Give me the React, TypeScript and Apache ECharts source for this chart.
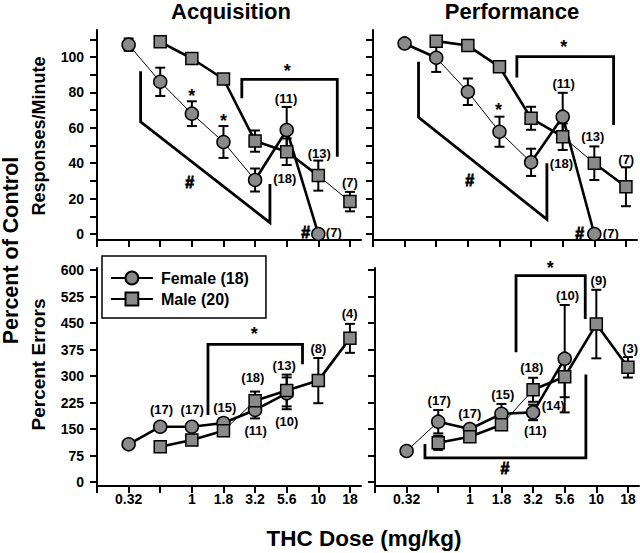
import React, { useEffect, useRef } from "react";
import * as echarts from "echarts";

// ---------- data ----------
const doseIndex = [0, 1, 2, 3, 4, 5, 6, 7];
const doseTickLabels = ["0.32", "", "1", "1.8", "3.2", "5.6", "10", "18"];

// Acquisition – Responses/Minute (percent of control)
const acqRateFemale = [107, 86, 68, 52, 30.5, 58.8, 0, null];
const acqRateFemaleSem = [3.5, 8, 7, 9, 6.5, 13, 0, null];
const acqRateMale = [null, 108.6, 99.2, 87.6, 52.5, 46.5, 33, 18.3];
const acqRateMaleSem = [null, 0, 0, 2, 6, 7.5, 8.5, 5.5];

// Performance – Responses/Minute
const perfRateFemale = [107.7, 99.6, 80.4, 57.8, 40.5, 66.3, 0, null];
const perfRateFemaleSem = [0, 8, 7.5, 8.5, 7.7, 13.5, 0, null];
const perfRateMale = [null, 109, 106.5, 94.5, 65.4, 55, 40, 26.7];
const perfRateMaleSem = [null, 2, 0, 0, 6.5, 7.5, 9.5, 11];

// Acquisition – Percent Errors
const acqErrFemale = [106.7, 156.5, 156.5, 167, 204, 251, null, null];
const acqErrFemaleSem = [0, 12, 8, 14, 24, 45, null, null];
const acqErrMale = [null, 100, 119, 145, 230, 259, 287, 406.6];
const acqErrMaleSem = [null, 0, 0, 10, 26, 45, 64, 41];

// Performance – Percent Errors
const perfErrFemale = [87.7, 170.7, 150, 193, 197, 349, null, null];
const perfErrFemaleSem = [0, 33, 8, 28, 22, 152, null, null];
const perfErrMale = [null, 111, 128, 162, 261, 298, 447, 324.6];
const perfErrMaleSem = [null, 20, 8, 12, 34, 58, 97, 29];

// ---------- styling of individual connecting segments (1 = heavy line) ----------
const segStyle = {
  acqRateFemale: [0, 0, 0, 0, 1, 1, 0],
  acqRateMale: [0, 1, 1, 1, 1, 1, 0],
  perfRateFemale: [1, 0, 0, 0, 1, 1, 0],
  perfRateMale: [0, 1, 1, 1, 1, 0, 1],
  acqErrFemale: [1, 1, 1, 1, 1, 0, 0],
  acqErrMale: [0, 1, 1, 0, 1, 1, 1],
  perfErrFemale: [0, 1, 1, 1, 1, 0, 0],
  perfErrMale: [0, 1, 1, 0, 1, 1, 1],
};

// ---------- annotations (in data coordinates: dose index, value) ----------
type Note = { x: number; y: number; t: string; s?: number };
const notesAcqRate: Note[] = [
  { x: 2.0, y: 78.2, t: "*", s: 18 },
  { x: 3.0, y: 64.1, t: "*", s: 18 },
  { x: 5.02, y: 92.2, t: "*", s: 18 },
  { x: 4.98, y: 76.7, t: "(11)" },
  { x: 4.94, y: 31.6, t: "(18)" },
  { x: 6.03, y: 45.6, t: "(13)" },
  { x: 7.0, y: 29, t: "(7)" },
  { x: 5.6, y: 1, t: "#", s: 16 },
  { x: 6.49, y: 1, t: "(7)" },
  { x: 1.93, y: 29, t: "#", s: 16 },
];
const notesPerfRate: Note[] = [
  { x: 2.97, y: 69.8, t: "*", s: 18 },
  { x: 5.03, y: 105.9, t: "*", s: 18 },
  { x: 5.03, y: 85.3, t: "(11)" },
  { x: 4.96, y: 40, t: "(18)" },
  { x: 5.95, y: 55, t: "(13)" },
  { x: 7.01, y: 42.2, t: "(7)" },
  { x: 5.54, y: 0.5, t: "#", s: 16 },
  { x: 6.52, y: 0.5, t: "(7)" },
  { x: 2.06, y: 30.5, t: "#", s: 16 },
];
const notesAcqErr: Note[] = [
  { x: 1.04, y: 204, t: "(17)" },
  { x: 2.01, y: 204, t: "(17)" },
  { x: 3.04, y: 211, t: "(15)" },
  { x: 3.93, y: 297, t: "(18)" },
  { x: 4.02, y: 147, t: "(11)" },
  { x: 4.92, y: 331, t: "(13)" },
  { x: 5.0, y: 171, t: "(10)" },
  { x: 6.0, y: 378, t: "(8)" },
  { x: 6.99, y: 477, t: "(4)" },
  { x: 3.97, y: 420, t: "*", s: 18 },
];
const notesPerfErr: Note[] = [
  { x: 1.03, y: 230, t: "(17)" },
  { x: 2.0, y: 193, t: "(17)" },
  { x: 3.04, y: 247, t: "(15)" },
  { x: 3.96, y: 325, t: "(18)" },
  { x: 4.07, y: 145, t: "(11)" },
  { x: 4.64, y: 216, t: "(14)" },
  { x: 5.09, y: 528, t: "(10)" },
  { x: 6.07, y: 570, t: "(9)" },
  { x: 7.07, y: 377, t: "(3)" },
  { x: 4.54, y: 607, t: "*", s: 18 },
  { x: 3.11, y: 37, t: "#", s: 16 },
];

const bracketsAcqRate: number[][][] = [
  [[0.38, 92], [0.38, 63.4], [4.47, 6.4], [4.47, 28.2]],
  [[3.58, 76.7], [3.58, 87.4], [6.6, 87.4], [6.6, 43.7]],
];
const bracketsPerfRate: number[][][] = [
  [[0.44, 97.3], [0.44, 65.9], [4.5, 8.3], [4.5, 40]],
  [[3.55, 88.5], [3.55, 100.2], [6.61, 100.2], [6.61, 61.6]],
];
const bracketsAcqErr: number[][][] = [
  [[2.51, 189.6], [2.51, 389.8], [5.5, 389.8], [5.5, 333]],
];
const bracketsPerfErr: number[][][] = [
  [[3.46, 367], [3.46, 584], [5.65, 584], [5.65, 461.6]],
  [[0.58, 107.8], [0.58, 68.2], [5.67, 68.2], [5.67, 304]],
];

const rateTicks = [0, 10, 20, 30, 40, 50, 60, 70, 80, 90, 100, 110];
const rateLabels = [0, 20, 40, 60, 80, 100];
const errTicks = [0, 75, 150, 225, 300, 375, 450, 525, 600];

const FEMALE = "Female (18)";
const MALE = "Male (20)";
const FONT = '"Liberation Sans", Arial, Helvetica, sans-serif';

type Panel = {
  female: (number | null)[];
  femaleSem: (number | null)[];
  male: (number | null)[];
  maleSem: (number | null)[];
  fSeg: number[];
  mSeg: number[];
  notes: Note[];
  brackets: number[][][];
  grid: { left: number; top: number; width: number; height: number };
  yMin: number;
  yMax: number;
  yTicks: number[];
  yLabels: number[];
  showY: boolean;
  showX: boolean;
};

const panels: Panel[] = [
  {
    female: acqRateFemale, femaleSem: acqRateFemaleSem, male: acqRateMale, maleSem: acqRateMaleSem,
    fSeg: segStyle.acqRateFemale, mSeg: segStyle.acqRateMale, notes: notesAcqRate, brackets: bracketsAcqRate,
    grid: { left: 97, top: 30, width: 264, height: 210 }, yMin: -3.4, yMax: 115.3,
    yTicks: rateTicks, yLabels: rateLabels, showY: true, showX: false,
  },
  {
    female: perfRateFemale, femaleSem: perfRateFemaleSem, male: perfRateMale, maleSem: perfRateMaleSem,
    fSeg: segStyle.perfRateFemale, mSeg: segStyle.perfRateMale, notes: notesPerfRate, brackets: bracketsPerfRate,
    grid: { left: 373, top: 30, width: 264, height: 210 }, yMin: -3.4, yMax: 115.3,
    yTicks: rateTicks, yLabels: rateLabels, showY: false, showX: false,
  },
  {
    female: acqErrFemale, femaleSem: acqErrFemaleSem, male: acqErrMale, maleSem: acqErrMaleSem,
    fSeg: segStyle.acqErrFemale, mSeg: segStyle.acqErrMale, notes: notesAcqErr, brackets: bracketsAcqErr,
    grid: { left: 97, top: 268, width: 264, height: 218 }, yMin: -11.3, yMax: 605.7,
    yTicks: errTicks, yLabels: errTicks, showY: true, showX: true,
  },
  {
    female: perfErrFemale, femaleSem: perfErrFemaleSem, male: perfErrMale, maleSem: perfErrMaleSem,
    fSeg: segStyle.perfErrFemale, mSeg: segStyle.perfErrMale, notes: notesPerfErr, brackets: bracketsPerfErr,
    grid: { left: 375, top: 268, width: 264, height: 218 }, yMin: -11.3, yMax: 605.7,
    yTicks: errTicks, yLabels: errTicks, showY: false, showX: true,
  },
];

const MARK_FILL = "#8a8a8a";

function toPoints(vals: (number | null)[]) {
  const out: number[][] = [];
  vals.forEach((v, i) => { if (v != null) out.push([doseIndex[i], v]); });
  return out;
}
function toErr(vals: (number | null)[], sem: (number | null)[]) {
  const out: number[][] = [];
  vals.forEach((v, i) => {
    const e = sem[i];
    if (v != null && e) out.push([doseIndex[i], v - e, v + e]);
  });
  return out;
}
function toSegs(vals: (number | null)[], flags: number[]) {
  const out: number[][] = [];
  for (let i = 0; i < vals.length - 1; i++) {
    const a = vals[i], b = vals[i + 1];
    if (a != null && b != null && flags[i]) out.push([doseIndex[i], a, doseIndex[i + 1], b]);
  }
  return out;
}

function buildOption() {
  const grid: any[] = [];
  const xAxis: any[] = [];
  const yAxis: any[] = [];
  const series: any[] = [];
  const labelStyle = { color: "#000", fontWeight: "bold", fontSize: 14, fontFamily: FONT };

  panels.forEach((p, i) => {
    grid.push({ ...p.grid, outerBoundsMode: "none", containLabel: false });
    xAxis.push({
      type: "value", gridIndex: i, min: -1, max: 7.35,
      axisLine: { show: true, onZero: false, lineStyle: { color: "#000", width: 2 } },
      axisTick: { show: true, length: 7, inside: false, customValues: [-1, ...doseIndex], lineStyle: { color: "#000", width: 2 } },
      axisLabel: {
        show: p.showX, customValues: doseIndex, margin: 6, ...labelStyle,
        formatter: (v: number) => doseTickLabels[Math.round(v)] ?? "",
      },
      splitLine: { show: false },
    });
    yAxis.push({
      type: "value", gridIndex: i, min: p.yMin, max: p.yMax,
      axisLine: { show: true, onZero: false, lineStyle: { color: "#000", width: 2 } },
      axisTick: { show: true, length: 7, inside: false, customValues: p.yTicks, lineStyle: { color: "#000", width: 2 } },
      axisLabel: { show: p.showY, customValues: p.yLabels, margin: 13, ...labelStyle },
      splitLine: { show: false },
    });

    // error bars
    series.push({
      type: "custom", xAxisIndex: i, yAxisIndex: i, z: 3, silent: true,
      encode: { x: 0, y: [1, 2] },
      data: [...toErr(p.female, p.femaleSem), ...toErr(p.male, p.maleSem)],
      renderItem: (_params: any, api: any) => {
        const x = api.value(0);
        const top = api.coord([x, api.value(2)]);
        const bot = api.coord([x, api.value(1)]);
        const cw = 5;
        const st = { stroke: "#000", lineWidth: 2 };
        return {
          type: "group",
          children: [
            { type: "line", shape: { x1: top[0], y1: top[1], x2: bot[0], y2: bot[1] }, style: st },
            { type: "line", shape: { x1: top[0] - cw, y1: top[1], x2: top[0] + cw, y2: top[1] }, style: st },
            { type: "line", shape: { x1: bot[0] - cw, y1: bot[1], x2: bot[0] + cw, y2: bot[1] }, style: st },
          ],
        };
      },
    });
    // heavy connecting segments
    series.push({
      type: "custom", xAxisIndex: i, yAxisIndex: i, z: 3, silent: true,
      encode: { x: [0, 2], y: [1, 3] },
      data: [...toSegs(p.female, p.fSeg), ...toSegs(p.male, p.mSeg)],
      renderItem: (_params: any, api: any) => {
        const a = api.coord([api.value(0), api.value(1)]);
        const b = api.coord([api.value(2), api.value(3)]);
        return { type: "line", shape: { x1: a[0], y1: a[1], x2: b[0], y2: b[1] }, style: { stroke: "#000", lineWidth: 2.6, lineCap: "round" } };
      },
    });
    // brackets
    p.brackets.forEach((b) => {
      series.push({
        type: "line", name: "bracket", xAxisIndex: i, yAxisIndex: i, z: 4, silent: true,
        data: b, symbol: "none", clip: false,
        lineStyle: { color: "#000", width: 2.8, join: "miter" },
      });
    });
    // female / male series
    series.push({
      type: "line", name: FEMALE, xAxisIndex: i, yAxisIndex: i, z: 5,
      data: toPoints(p.female), symbol: "circle", symbolSize: 13, showSymbol: true,
      lineStyle: { color: "#000", width: 1 },
      itemStyle: { color: MARK_FILL, borderColor: "#000", borderWidth: 1.5 },
    });
    series.push({
      type: "line", name: MALE, xAxisIndex: i, yAxisIndex: i, z: 5,
      data: toPoints(p.male), symbol: "rect", symbolSize: 12, showSymbol: true,
      lineStyle: { color: "#000", width: 1 },
      itemStyle: { color: MARK_FILL, borderColor: "#000", borderWidth: 1.5 },
    });
    // annotation texts
    const notes = p.notes;
    series.push({
      type: "custom", name: "notes", xAxisIndex: i, yAxisIndex: i, z: 6, silent: true, clip: false,
      encode: { x: 0, y: 1 },
      data: notes.map((n) => [n.x, n.y]),
      renderItem: (params: any, api: any) => {
        const n = notes[params.dataIndex];
        const pt = api.coord([api.value(0), api.value(1)]);
        const heavy = n.t === "#";
        return {
          type: "text", x: pt[0], y: pt[1],
          style: {
            text: n.t, fill: "#000", fontWeight: "bold", fontFamily: FONT,
            fontSize: n.s ?? 13, align: "center", verticalAlign: "middle",
            stroke: heavy ? "#000" : undefined, lineWidth: heavy ? 0.8 : 0,
          },
        };
      },
    });
  });

  const textBase = { fill: "#000", fontWeight: "bold", fontFamily: FONT, align: "center", verticalAlign: "middle" };
  const graphic = [
    { type: "text", x: 231, y: 11.5, style: { ...textBase, text: "Acquisition", fontSize: 22 } },
    { type: "text", x: 512, y: 11.5, style: { ...textBase, text: "Performance", fontSize: 22 } },
    { type: "text", x: 11, y: 250.5, rotation: Math.PI / 2, style: { ...textBase, text: "Percent of Control", fontSize: 21.5 } },
    { type: "text", x: 38.5, y: 136, rotation: Math.PI / 2, style: { ...textBase, text: "Responses/Minute", fontSize: 18 } },
    { type: "text", x: 38.5, y: 364.5, rotation: Math.PI / 2, style: { ...textBase, text: "Percent Errors", fontSize: 19 } },
    { type: "text", x: 364, y: 538.8, style: { ...textBase, text: "THC Dose (mg/kg)", fontSize: 22.5 } },
  ];

  return {
    animation: false,
    backgroundColor: "#fff",
    grid, xAxis, yAxis, series, graphic,
    legend: {
      data: [FEMALE, MALE],
      orient: "vertical", left: 102, top: 256,
      padding: [14, 17, 11, 8],
      itemWidth: 42, itemHeight: 16, itemGap: 5,
      borderColor: "#000", borderWidth: 1.5, borderRadius: 0,
      selectedMode: false,
      lineStyle: { width: 1.8, color: "#000" },
      textStyle: { color: "#000", fontWeight: "bold", fontSize: 16, fontFamily: FONT, padding: [0, 0, 0, 3] },
    },
  };
}

export default function App() {
  const ref = useRef<HTMLDivElement>(null);
  useEffect(() => {
    document.body.style.margin = "0";
    if (!ref.current) return;
    const chart = echarts.init(ref.current, undefined, { renderer: "svg" });
    chart.setOption(buildOption() as any);
    return () => chart.dispose();
  }, []);
  return <div ref={ref} style={{ width: 640, height: 553 }} />;
}
